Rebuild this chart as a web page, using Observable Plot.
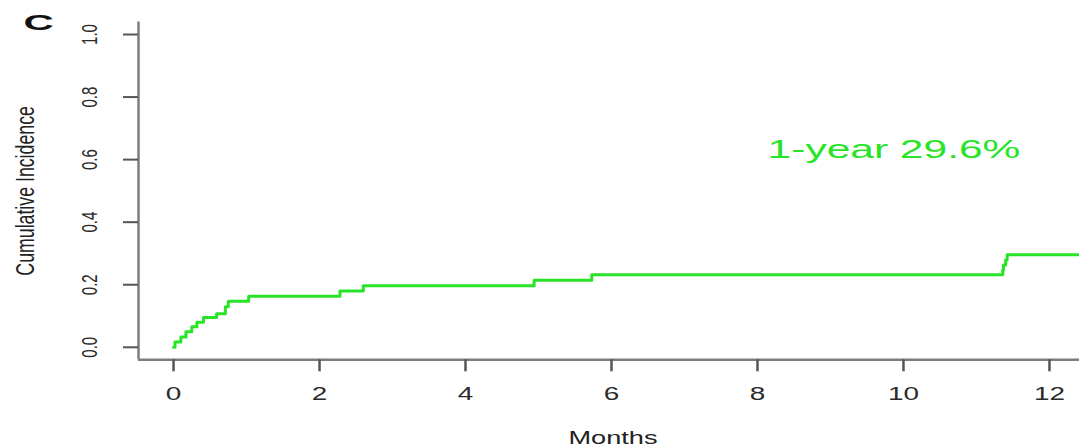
<!DOCTYPE html>
<html>
<head>
<meta charset="utf-8">
<script src="https://cdn.jsdelivr.net/npm/d3@7"></script>
<script src="https://cdn.jsdelivr.net/npm/@observablehq/plot@0.6"></script>
<style>
  html, body { margin: 0; padding: 0; background: #ffffff; }
  #chart { width: 1079px; height: 447px; overflow: hidden; }
</style>
</head>
<body>
<div id="chart"></div>
<script>
// ---- data ----
const months    = [0.00, 0.02, 0.10, 0.17, 0.25, 0.32, 0.41, 0.59, 0.71, 0.75, 1.03, 2.28, 2.60, 4.94, 5.73, 11.36, 11.37, 11.40, 11.42, 12.45];
const incidence = [0.000, 0.017, 0.033, 0.050, 0.066, 0.080, 0.095, 0.107, 0.130, 0.147, 0.163, 0.180, 0.197, 0.214, 0.232, 0.247, 0.263, 0.279, 0.296, 0.296];
const xTicks = [0, 2, 4, 6, 8, 10, 12];
const xTickLabels = ["0", "2", "4", "6", "8", "10", "12"];
const yTicks = [0, 0.2, 0.4, 0.6, 0.8, 1.0];
const yTickLabels = ["0.0", "0.2", "0.4", "0.6", "0.8", "1.0"];
const panelLabel = "C";
const xTitle = "Months";
const yTitle = "Cumulative Incidence";
const noteText = "1-year 29.6%";
const noteMonth = 9.87;
const noteValue = 0.632;

// ---- build ----
const data = months.map((t, i) => ({t, v: incidence[i]}));
const notes = [{t: noteMonth, v: noteValue, label: noteText}];
const xDomain = [-0.48, 12.48];
const yDomain = [-0.04, 1.04];
const font = "'Liberation Sans', Arial, Helvetica, sans-serif";
const K = 1.45;               // horizontal stretch of the reference image
const axisGray = "#7d7d7d";
const tickGray = "#555555";
const green = "#27e427";

const plot = Plot.plot({
  width: 1079,
  height: 447,
  marginLeft: 138,
  marginRight: 0,
  marginTop: 21.5,
  marginBottom: 87.7,
  style: {fontFamily: font, background: "#ffffff", color: "#222"},
  x: {domain: xDomain, range: [138, 1084], label: null},
  y: {domain: yDomain, label: null},
  marks: [
    Plot.ruleX([xDomain[0]], {y1: yDomain[0], y2: yDomain[1], stroke: axisGray, strokeWidth: 2.5}),
    Plot.ruleY([yDomain[0]], {x1: xDomain[0], x2: xDomain[1], stroke: axisGray, strokeWidth: 2.5}),
    Plot.axisX({
      ticks: xTicks,
      tickFormat: d => xTickLabels[xTicks.indexOf(d)],
      tickSize: 12, tickPadding: 15.7,
      fontSize: 18, stroke: tickGray, strokeWidth: 2.5, fill: "#2a2a2a",
      label: null
    }),
    Plot.axisY({
      ticks: yTicks,
      tickFormat: d => yTickLabels[yTicks.indexOf(d)],
      tickSize: 15, tickPadding: 26.5, tickRotate: -90,
      fontSize: 15 * K, stroke: tickGray, strokeWidth: 2, fill: "#2a2a2a",
      label: null
    }),
    Plot.line(data, {x: "t", y: "v", curve: "step-after", stroke: green, strokeWidth: 3}),
    Plot.text(notes, {
      x: "t", y: "v", text: "label", fill: green, fontSize: 25,
      textAnchor: "middle", lineAnchor: "middle"
    }),
    Plot.text([panelLabel], {
      text: d => d, frameAnchor: "top-left", dx: -100, dy: -8,
      fontSize: 22, fontWeight: "bold", fill: "#111",
      textAnchor: "middle", lineAnchor: "top"
    }),
    Plot.text([xTitle], {
      text: d => d, frameAnchor: "bottom", dx: 4, dy: 84.2,
      fontSize: 19, fill: "#222", textAnchor: "middle", lineAnchor: "bottom"
    }),
    Plot.text([yTitle], {
      text: d => d, frameAnchor: "left", rotate: -90, dx: -104.5,
      fontSize: 17.5 * K, fill: "#222", textAnchor: "middle", lineAnchor: "bottom"
    })
  ]
});

document.getElementById("chart").append(plot);

// emulate the horizontally stretched lettering of the reference
function stretchText(t, k, vertical) {
  const L = t.getComputedTextLength();
  if (!(L > 0)) return;
  t.setAttribute("lengthAdjust", "spacingAndGlyphs");
  t.setAttribute("textLength", vertical ? L / k : L * k);
}
const factors = new Map([
  [panelLabel, [1.9, false]],
  [xTitle, [1.43, false]],
  [yTitle, [1.43, true]],
  [noteText, [1.7, false]]
]);
plot.querySelectorAll("text").forEach(t => {
  const s = t.textContent;
  if (factors.has(s)) {
    const [k, v] = factors.get(s);
    stretchText(t, k, v);
  }
});
plot.querySelectorAll('g[aria-label="x-axis tick label"] text').forEach(t => stretchText(t, 1.55, false));
plot.querySelectorAll('g[aria-label="y-axis tick label"] text').forEach(t => stretchText(t, K, true));
</script>
</body>
</html>
